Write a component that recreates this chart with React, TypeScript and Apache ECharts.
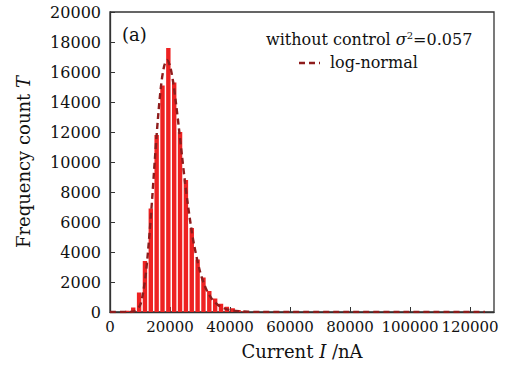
import React, { useEffect, useRef } from "react";
import * as echarts from "echarts";

const binCenters = [5800, 7750, 9700, 11650, 13600, 15550, 17500, 19450, 21400, 23350, 25300, 27250, 29200, 31150, 33100, 35050, 37000, 38950, 40900, 42850, 44800];
const binCounts = [80, 300, 1300, 3400, 6900, 11800, 15100, 17600, 15300, 12000, 8800, 5600, 3500, 2300, 1400, 900, 550, 350, 250, 130, 60];

const fitX = [0, 6000, 8000, 10000, 11000, 12000, 13000, 14000, 15000, 16000, 17000, 18000, 19000, 20000, 21000, 22000, 23000, 24000, 25000, 26000, 27000, 28000, 30000, 32000, 34000, 36000, 38000, 40000, 43000, 46000, 50000, 60000, 125000];
const fitY = [0, 0, 40, 450, 1250, 2650, 4800, 7400, 10300, 12950, 15050, 16350, 16800, 16400, 15400, 13900, 12200, 10400, 8650, 7100, 5700, 4500, 2700, 1550, 860, 470, 250, 130, 50, 20, 5, 0, 0];

const xTicks = { min: 0, max: 128000, interval: 20000 };
const yTicks = { min: 0, max: 20000, interval: 2000 };

const FONT = "DejaVu Serif";

export default function App() {
  const ref = useRef<HTMLDivElement>(null);
  useEffect(() => {
    const chart = echarts.init(ref.current!, undefined, { renderer: "svg" });
    chart.setOption({
      animation: false,
      backgroundColor: "#ffffff",
      grid: { left: 110, right: 19, top: 12, bottom: 48, show: true, borderColor: "#333", borderWidth: 1.3, backgroundColor: "transparent" },
      xAxis: {
        type: "value",
        min: xTicks.min,
        max: xTicks.max,
        interval: xTicks.interval,
        splitLine: { show: false },
        axisLine: { lineStyle: { color: "#333", width: 1.3 } },
        axisTick: { inside: true, length: 5, lineStyle: { color: "#333" } },
        axisLabel: {
          color: "#111",
          fontFamily: FONT,
          fontSize: 15,
          margin: 7,
          showMaxLabel: false,
          formatter: (v: number) => (v % 20000 === 0 ? String(v) : ""),
        },
        name: "Current {i|I} /nA",
        nameLocation: "middle",
        nameGap: 30,
        nameTextStyle: {
          color: "#111",
          fontFamily: FONT,
          fontSize: 18,
          rich: { i: { fontStyle: "italic", fontFamily: FONT, fontSize: 18, color: "#111" } },
        },
      },
      yAxis: {
        type: "value",
        min: yTicks.min,
        max: yTicks.max,
        interval: yTicks.interval,
        splitLine: { show: false },
        axisLine: { show: true, lineStyle: { color: "#333", width: 1.3 } },
        axisTick: { show: true, inside: true, length: 5, lineStyle: { color: "#333" } },
        axisLabel: { color: "#111", fontFamily: FONT, fontSize: 16, margin: 9, formatter: (v: number) => String(v) },
        name: "Frequency count {i|T}",
        nameLocation: "middle",
        nameGap: 78,
        nameTextStyle: {
          color: "#111",
          fontFamily: FONT,
          fontSize: 18,
          rich: { i: { fontStyle: "italic", fontFamily: FONT, fontSize: 18, color: "#111" } },
        },
      },
      series: [
        {
          type: "bar",
          name: "without control",
          data: binCenters.map((c, i) => [c, binCounts[i]]),
          barWidth: 4.4,
          itemStyle: { color: "#ee2222" },
        },
        {
          type: "line",
          name: "log-normal",
          data: fitX.map((x, i) => [x, fitY[i]]),
          smooth: 0.3,
          symbol: "none",
          lineStyle: { color: "#8e1c1c", width: 2.4, type: [6, 4] },
          z: 5,
        },
      ],
      graphic: [
        {
          type: "text",
          left: 122,
          top: 25,
          style: { text: "(a)", font: `18px '${FONT}'`, fill: "#111" },
        },
        {
          type: "text",
          left: 266,
          top: 30,
          style: {
            text: "without control {i|σ}{s|2}=0.057",
            font: `16px '${FONT}'`,
            fill: "#111",
            rich: {
              i: { fontStyle: "italic", fontFamily: FONT, fontSize: 16, fill: "#111" },
              s: { fontFamily: FONT, fontSize: 10, fill: "#111", verticalAlign: "top", padding: [0, 0, 8, 0] },
            },
          },
        },
        {
          type: "line",
          shape: { x1: 299, y1: 63, x2: 320, y2: 63 },
          style: { stroke: "#8e1c1c", lineWidth: 2.4, lineDash: [6, 4] },
        },
        {
          type: "text",
          left: 330,
          top: 54,
          style: { text: "log-normal", font: `16px '${FONT}'`, fill: "#111" },
        },
      ],
    });
    return () => chart.dispose();
  }, []);
  return <div ref={ref} style={{ position: "fixed", left: 0, top: 0, width: 513, height: 365 }} />;
}
